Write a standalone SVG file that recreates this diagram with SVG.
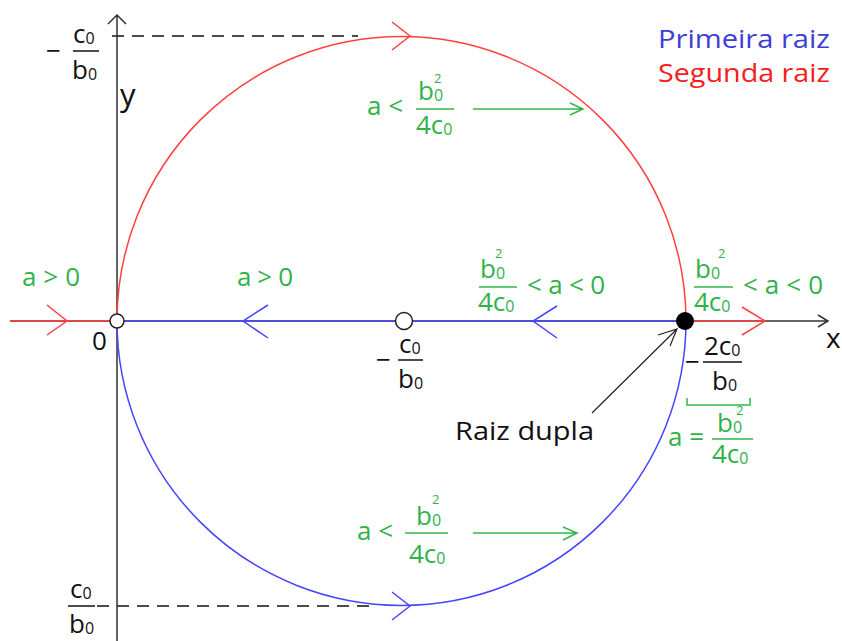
<svg xmlns="http://www.w3.org/2000/svg" width="842" height="641" viewBox="0 0 842 641">
<style>
text{font-family:"Open Sans","Liberation Sans",sans-serif;font-size:26px}
.k{fill:#111}
.g{fill:#30b24a}
.sub{font-size:16px}
.sup{font-size:13px}
.ax{stroke:#333;stroke-width:1.5;fill:none}
.r{stroke:#ff4040;stroke-width:1.5;fill:none}
.b{stroke:#4545ff;stroke-width:1.5;fill:none}
.gl{stroke:#33b54c;stroke-width:1.5;fill:none}
.fr{stroke:#111;stroke-width:1.5}
.gfr{stroke:#33b54c;stroke-width:1.5}
.dash{stroke:#111;stroke-width:1.5;stroke-dasharray:12 8;fill:none}
</style>
<rect width="842" height="641" fill="#fff"/>
<g id="connectors">
<path class="dash" d="M112,36 H358"/>
<path class="dash" d="M97,606 H372"/>
<path class="ax" d="M117,641 V15 M108,24 L117,15 L126,24"/>
<path class="ax" d="M10,321 H828 M818,315 L828,321 L818,327"/>
<path class="r" d="M117,321 A284.5,284.5 0 0 1 686,321"/>
<path class="b" d="M117,321 A284.5,284.5 0 0 0 686,321"/>
<path class="r" d="M10,321 H117 M47,305 L67,321 L47,335"/>
<path class="b" d="M117,321 H686 M268,305 L243,321 L268,338 M557,306 L533,321 L557,338"/>
<path class="r" d="M686,321 H765 M742,307 L765,321 L742,335"/>
<path class="r" d="M392,22 L410,36 L392,50"/>
<path class="b" d="M392,592 L410,606 L392,620"/>
<path class="gl" d="M473,109 H583 M570,103 L583,109 L570,115"/>
<path class="gl" d="M473,533 H577 M563,527 L577,533 L563,540"/>
<path class="ax" style="stroke:#222;stroke-width:1.2" d="M592,413 L677,329 M658,335 L677,329 L670,346"/>
<path class="gl" d="M687,398 V405 H750 V398"/>
</g>
<g id="node-origin"><circle cx="117" cy="321" r="7" fill="#fff" stroke="#222" stroke-width="1.5"/><text class="k" x="92" y="350">0</text></g>
<g id="node-center"><circle cx="404" cy="321" r="8.5" fill="#fff" stroke="#222" stroke-width="1.5"/>
<text class="k" x="376" y="369">−</text><text class="k" x="399" y="353">c<tspan class="sub" dy="1">0</tspan></text><line class="fr" x1="398" y1="360" x2="423" y2="360"/><text class="k" x="398" y="388">b<tspan class="sub" dy="1">0</tspan></text></g>
<g id="node-root"><circle cx="685" cy="321" r="9" fill="#000"/></g>
<g id="label-top-left"><text class="k" x="46" y="60">−</text><text class="k" x="73" y="43">c<tspan class="sub" dy="1">0</tspan></text><line class="fr" x1="73" y1="51" x2="99" y2="51"/><text class="k" x="72" y="79">b<tspan class="sub" dy="1">0</tspan></text></g>
<g id="label-bottom-left"><text class="k" x="70" y="598">c<tspan class="sub" dy="1">0</tspan></text><line class="fr" x1="68" y1="606" x2="95" y2="606"/><text class="k" x="69" y="633">b<tspan class="sub" dy="1">0</tspan></text></g>
<g id="axis-labels"><text class="k" x="120" y="106" style="font-size:31px">y</text><text class="k" x="826" y="348" style="font-size:28px">x</text></g>
<g id="legend"><text x="658" y="48" fill="#3d3dd8" style="font-size:26px" textLength="172" lengthAdjust="spacingAndGlyphs">Primeira raiz</text><text x="658" y="82" fill="#f22020" style="font-size:26px" textLength="172" lengthAdjust="spacingAndGlyphs">Segunda raiz</text></g>
<g id="label-top-green"><text class="g" x="367" y="115">a &lt;</text><text class="g" x="418" y="100">b<tspan class="sub" dy="1">0</tspan></text><text class="g sup" x="434" y="83">2</text><line class="gfr" x1="416" y1="109" x2="454" y2="109"/><text class="g" x="416" y="134">4c<tspan class="sub" dy="1">0</tspan></text></g>
<g id="label-bottom-green"><text class="g" x="357" y="540">a &lt;</text><text class="g" x="416" y="525">b<tspan class="sub" dy="1">0</tspan></text><text class="g sup" x="432" y="504">2</text><line class="gfr" x1="405" y1="533" x2="448" y2="533"/><text class="g" x="409" y="563">4c<tspan class="sub" dy="1">0</tspan></text></g>
<g id="label-a-pos"><text class="g" x="22" y="286" textLength="58">a &gt; 0</text><text class="g" x="237" y="286" textLength="56">a &gt; 0</text></g>
<g id="label-mid-right"><text class="g" x="480" y="278">b<tspan class="sub" dy="1">0</tspan></text><text class="g sup" x="495" y="258">2</text><line class="gfr" x1="479" y1="287" x2="517" y2="287"/><text class="g" x="478" y="311">4c<tspan class="sub" dy="1">0</tspan></text><text class="g" x="527" y="294" textLength="78">&lt; a &lt; 0</text></g>
<g id="label-far-right"><text class="g" x="695" y="278">b<tspan class="sub" dy="1">0</tspan></text><text class="g sup" x="718" y="258">2</text><line class="gfr" x1="694" y1="287" x2="733" y2="287"/><text class="g" x="694" y="311">4c<tspan class="sub" dy="1">0</tspan></text><text class="g" x="743" y="294" textLength="80">&lt; a &lt; 0</text></g>
<g id="label-root-x"><text class="k" x="685" y="371">−</text><text class="k" x="704" y="355">2c<tspan class="sub" dy="1">0</tspan></text><line class="fr" x1="703" y1="362" x2="742" y2="362"/><text class="k" x="712" y="390">b<tspan class="sub" dy="1">0</tspan></text></g>
<g id="label-a-eq"><text class="g" x="668" y="446">a =</text><text class="g" x="717" y="432">b<tspan class="sub" dy="1">0</tspan></text><text class="g sup" x="736" y="415">2</text><line class="gfr" x1="712" y1="439" x2="753" y2="439"/><text class="g" x="712" y="463">4c<tspan class="sub" dy="1">0</tspan></text></g>
<g id="label-raiz-dupla"><text class="k" x="455" y="440" style="font-size:26px" textLength="139" lengthAdjust="spacingAndGlyphs">Raiz dupla</text></g>
</svg>
